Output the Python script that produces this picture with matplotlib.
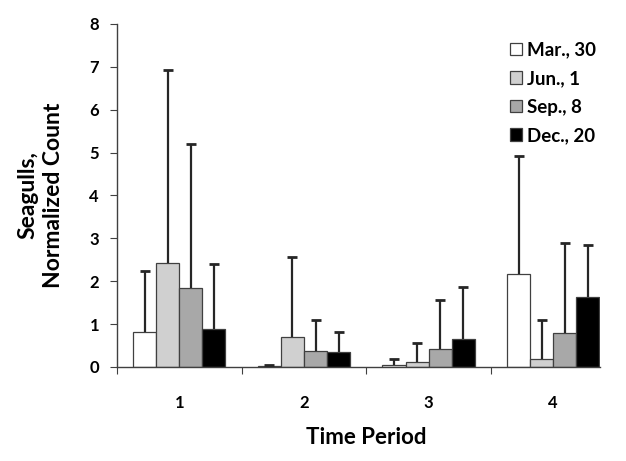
import numpy as np
import matplotlib
matplotlib.use("Agg")
import matplotlib.pyplot as plt

# Data
periods = ["1", "2", "3", "4"]
series = ["Mar., 30", "Jun., 1", "Sep., 8", "Dec., 20"]
means = [
    [0.81, 0.02, 0.04, 2.17],   # Mar., 30
    [2.42, 0.71, 0.12, 0.18],   # Jun., 1
    [1.83, 0.38, 0.42, 0.79],   # Sep., 8
    [0.88, 0.36, 0.66, 1.63],   # Dec., 20
]
err_tops = [
    [2.24, 0.04, 0.18, 4.92],
    [6.92, 2.56, 0.56, 1.10],
    [5.20, 1.10, 1.57, 2.90],
    [2.40, 0.82, 1.86, 2.84],
]
colors = ["white", "#d0d0d0", "#a8a8a8", "black"]


def main():
    plt.rcParams["font.family"] = ["Lato", "DejaVu Sans"]
    plt.rcParams["font.weight"] = "bold"

    fig = plt.figure(figsize=(6.26, 4.61), dpi=100)
    ax = fig.add_axes([0.187, 0.204, 0.771, 0.744])

    x = np.arange(1, len(periods) + 1)
    w = 0.185
    for i, name in enumerate(series):
        m = np.array(means[i])
        top = np.array(err_tops[i])
        pos = x + (i - 1.5) * w
        ax.bar(pos, m, width=w, color=colors[i], edgecolor="#404040",
               linewidth=0.9, label=name, zorder=2)
        # upper-only error bars, no cap at the bar top
        ax.vlines(pos, m, top, color="#262626", linewidth=1.6, zorder=3)
        ax.plot(pos, top, ls="none", marker="_", markersize=7,
                markeredgewidth=2.0, color="#262626", zorder=3)

    ax.set_ylim(0, 8)
    ax.set_xlim(0.5, 4.373)
    ax.set_yticks(range(0, 9))
    ax.set_xticks([0.5, 1.5, 2.5, 3.5])
    ax.set_xticklabels([])
    ax.set_xticks(x, minor=True)
    ax.set_xticklabels(periods, minor=True)
    ax.tick_params(axis="x", which="major", direction="out", length=5,
                   color="#404040")
    ax.tick_params(axis="x", which="minor", length=0, pad=20, labelsize=12)
    ax.tick_params(axis="y", direction="out", length=5, color="#404040",
                   labelsize=12, pad=8)

    for s in ["top", "right"]:
        ax.spines[s].set_visible(False)
    for s in ["left", "bottom"]:
        ax.spines[s].set_color("#404040")
        ax.spines[s].set_linewidth(1.0)

    ax.set_xlabel("Time Period", fontsize=16, fontweight="bold")
    ax.xaxis.set_label_coords(0.516, -0.175)
    ax.set_ylabel("Seagulls,\nNormalized Count", fontsize=16.5,
                  fontweight="bold", linespacing=1.25)
    ax.yaxis.set_label_coords(-0.11, 0.5)

    leg = ax.legend(loc="upper right", frameon=False, fontsize=13.5,
                    handlelength=0.67, handleheight=0.65, handletextpad=0.25,
                    labelspacing=0.62, borderaxespad=0.0, borderpad=0.2,
                    bbox_to_anchor=(1.0, 0.96))
    for t in leg.get_texts():
        t.set_fontweight("bold")

    fig.savefig("out.png", dpi=100)


if __name__ == "__main__":
    main()
